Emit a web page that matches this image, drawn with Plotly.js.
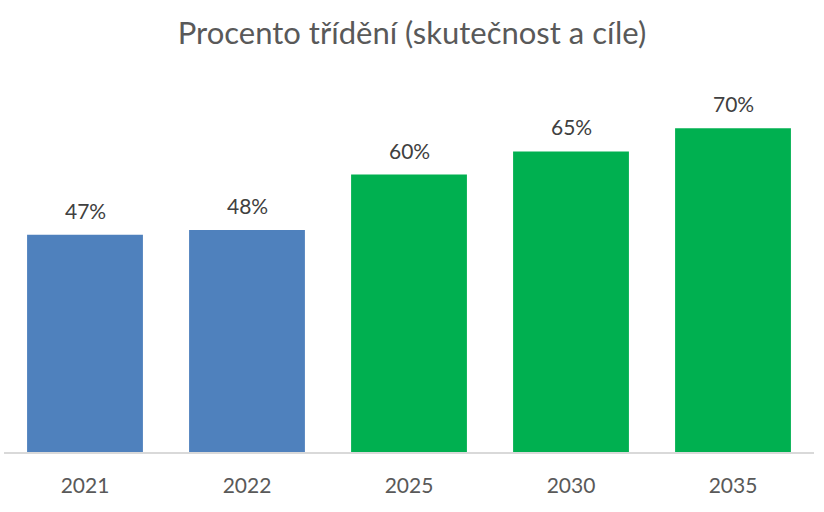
<!DOCTYPE html>
<html><head><meta charset="utf-8">
<script src="https://cdn.plot.ly/plotly-3.0.1.min.js"></script>
<style>html,body{margin:0;padding:0;background:#fff}#chart{width:824px;height:512px}</style>
</head><body><div id="chart"></div>
<script>
const categories = ["2021", "2022", "2025", "2030", "2035"];
const values = [47, 48, 60, 65, 70];
const labels = ["47%", "48%", "60%", "65%", "70%"];
const barColors = ["#4F81BD", "#4F81BD", "#00B050", "#00B050", "#00B050"];
const chartTitle = "Procento třídění (skutečnost a cíle)";

const font = "Lato, 'Open Sans', sans-serif";
const annotations = categories.map((c, i) => ({
  x: i, y: values[i], xref: "x", yref: "y",
  text: labels[i], showarrow: false,
  yanchor: "bottom", yshift: 10,
  font: {family: font, size: 21, color: "#404040"}
}));
Plotly.newPlot("chart", [{
  type: "bar",
  x: categories,
  y: values,
  marker: {color: barColors},
  hoverinfo: "none"
}], {
  width: 824, height: 512,
  margin: {l: 4, r: 10, t: 82, b: 60},
  paper_bgcolor: "#fff", plot_bgcolor: "#fff",
  bargap: 0.285,
  annotations: annotations,
  title: {text: chartTitle, font: {family: font, size: 31, color: "#595959"}, x: 0.5, xanchor: "center", y: 0.935, yanchor: "middle"},
  xaxis: {type: "category", range: [-0.5, 4.5], showline: true, linecolor: "#D9D9D9", linewidth: 2, ticks: "outside", ticklen: 14, tickcolor: "rgba(0,0,0,0)", tickfont: {family: font, size: 21, color: "#595959"}, showgrid: false},
  yaxis: {range: [0, 80], visible: false, showgrid: false, zeroline: false},
  showlegend: false
}, {staticPlot: true});
</script></body></html>
